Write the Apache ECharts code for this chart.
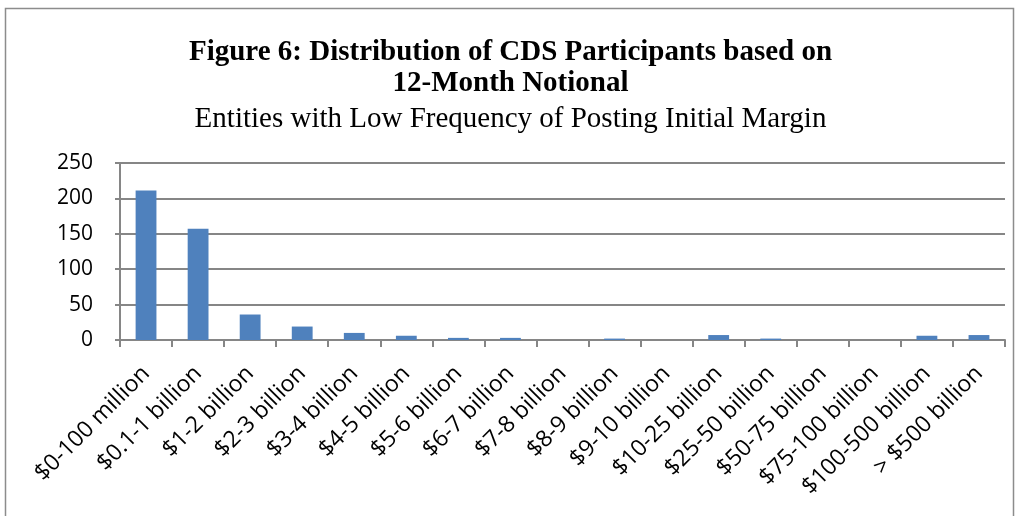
<!DOCTYPE html>
<html>
<head>
<meta charset="utf-8">
<script src="https://cdn.jsdelivr.net/npm/echarts@6/dist/echarts.min.js"></script>
<style>
  html, body { margin: 0; padding: 0; background: #fff; }
  #chart { width: 1021px; height: 516px; }
</style>
</head>
<body>
<div id="chart"></div>
<script>
// Notional size buckets (12-month notional)
const categories = [
  '$0-100 million', '$0.1-1 billion', '$1-2 billion', '$2-3 billion',
  '$3-4 billion', '$4-5 billion', '$5-6 billion', '$6-7 billion',
  '$7-8 billion', '$8-9 billion', '$9-10 billion', '$10-25 billion',
  '$25-50 billion', '$50-75 billion', '$75-100 billion', '$100-500 billion',
  '> $500 billion'
];
// Number of participants in each bucket
const participants = [211, 157, 36, 19, 10, 6, 3, 3, 0, 2, 0, 7, 2, 0, 0, 6, 7];

const titleMain = 'Figure 6: Distribution of CDS Participants based on\n12-Month Notional';
const titleSub = 'Entities with Low Frequency of Posting Initial Margin';

const chart = echarts.init(document.getElementById('chart'), null, { renderer: 'canvas' });
const gray = '#868686';

chart.setOption({
  animation: false,
  backgroundColor: '#fff',
  graphic: [{
    type: 'rect',
    shape: { x: 5.5, y: 8.5, width: 1008, height: 520 },
    style: { fill: 'none', stroke: '#8c8c8c', lineWidth: 1.5 },
    silent: true
  }],
  title: {
    text: titleMain,
    subtext: titleSub,
    left: 'center',
    top: 32,
    itemGap: 5,
    textStyle: {
      fontFamily: 'Liberation Serif',
      fontWeight: 'bold',
      fontSize: 29,
      lineHeight: 31,
      color: '#000'
    },
    subtextStyle: {
      fontFamily: 'Liberation Serif',
      fontSize: 29,
      lineHeight: 31,
      color: '#000'
    }
  },
  grid: { left: 120, right: 16, top: 163, bottom: 176, containLabel: false },
  xAxis: {
    type: 'category',
    data: categories,
    axisLine: { lineStyle: { color: gray, width: 2 } },
    axisTick: { show: true, alignWithLabel: false, length: 7, lineStyle: { color: gray, width: 2 } },
    axisLabel: {
      interval: 0,
      rotate: 45,
      margin: 30,
      fontFamily: 'Open Sans',
      fontSize: 23,
      color: '#000'
    }
  },
  yAxis: {
    type: 'value',
    min: 0,
    max: 250,
    interval: 50,
    axisLine: { show: true, lineStyle: { color: gray, width: 2 } },
    axisTick: { show: true, length: 5, lineStyle: { color: gray, width: 2 } },
    splitLine: { lineStyle: { color: gray, width: 2 } },
    axisLabel: {
      margin: 27,
      fontFamily: 'Open Sans',
      fontSize: 21,
      color: '#000'
    }
  },
  series: [{
    type: 'bar',
    data: participants,
    barWidth: '40%',
    itemStyle: { color: '#4F81BD' }
  }]
});
</script>
</body>
</html>
